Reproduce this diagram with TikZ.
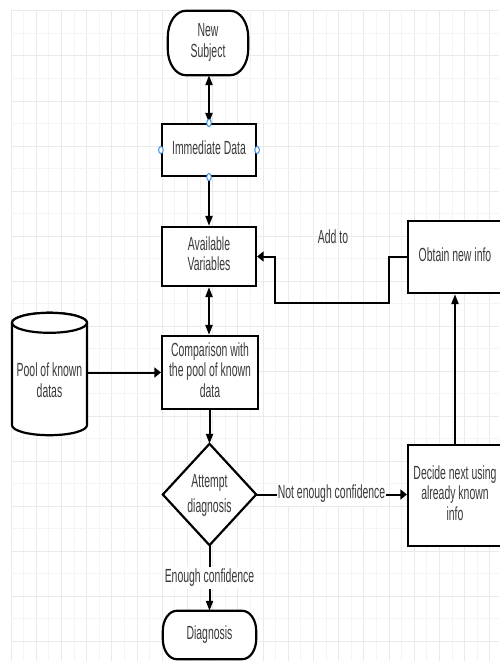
\documentclass[tikz,border=0pt]{standalone}
\usepackage{fontspec}
\setmainfont{Liberation Sans}
\usepackage{graphicx}
\usetikzlibrary{arrows.meta,calc}
\definecolor{gridlight}{HTML}{F4F4F4}
\definecolor{griddark}{HTML}{EAEAEA}
\definecolor{txt}{HTML}{3A3A3A}
\definecolor{handle}{HTML}{3D8FE6}
\newcommand{\sqz}[1]{\scalebox{0.55}[1]{\begin{tabular}{@{}c@{}}#1\end{tabular}}}
\tikzset{
  vt/.tip={Triangle[length=10pt,width=7pt]},
  ht/.tip={Triangle[length=6.5pt,width=10pt]},
  shapeline/.style={draw=black,line width=2.2pt,fill=white},
  boxnode/.style={shapeline,inner sep=0pt,text=txt,font=\fontsize{19}{20.5}\selectfont},
  hidden/.style={inner sep=0pt,text=txt,font=\fontsize{19}{20.5}\selectfont},
  conn/.style={draw=black,line width=2pt},
  lbl/.style={fill=white,inner sep=1pt,text=txt,font=\fontsize{19}{20.5}\selectfont},
  hdl/.style={draw=handle,fill=white,line width=1pt}
}
\begin{document}
\begin{tikzpicture}[x=1pt,y=-1pt]
\useasboundingbox (0,0) rectangle (499,661);
\fill[white] (0,0) rectangle (499,661);
% grid
\foreach \k in {0,...,38}{\ifodd\k\def\gc{gridlight}\else\def\gc{griddark}\fi
  \draw[\gc,line width=1pt] (11+12.6*\k,11) -- (11+12.6*\k,661);}
\foreach \k in {0,...,28}{\ifodd\k\def\gc{gridlight}\else\def\gc{griddark}\fi
  \draw[\gc,line width=1pt] (11,11+22.5*\k) -- (499,11+22.5*\k);}

% nodes
\node[hidden,minimum width=80pt,minimum height=64pt] (ns) at (208,43) {};
\node[boxnode,minimum width=94pt,minimum height=52pt] (imm) at (209,150) {\sqz{Immediate Data}};
\node[boxnode,minimum width=94pt,minimum height=59pt] (av) at (209,256.5) {\sqz{Available\\Variables}};
\node[boxnode,minimum width=96pt,minimum height=73pt] (cmp) at (210,372.5) {\sqz{Comparison with\\the pool of known\\data}};
\node[hidden,minimum width=93pt,minimum height=101pt] (ad) at (209.5,494.5) {};
\node[hidden,minimum width=93pt,minimum height=48pt] (dg) at (209.5,635) {};
\node[hidden,minimum width=75pt,minimum height=122pt] (pool) at (49.5,374) {};
\node[boxnode,minimum width=94pt,minimum height=72pt] (ob) at (455,257) {\sqz{Obtain new info}};
\node[boxnode,minimum width=94pt,minimum height=101pt] (dc) at (455,495.5) {\sqz{Decide next using\\already known\\info}};

% New Subject terminator
\draw[shapeline] ([xshift=18pt]ns.north west) -- ([xshift=-18pt]ns.north east)
  arc[start angle=-90,end angle=0,x radius=18,y radius=26] -- ([yshift=26pt]ns.south east)
  arc[start angle=0,end angle=90,x radius=18,y radius=26] -- ([xshift=18pt]ns.south west)
  arc[start angle=90,end angle=180,x radius=18,y radius=26] -- ([yshift=-26pt]ns.north west)
  arc[start angle=180,end angle=270,x radius=18,y radius=26] -- cycle;
\node[hidden,align=center] (nst) at (ns) {\sqz{New\\Subject}};

% Diagnosis terminator
\draw[shapeline] ([xshift=14pt]dg.north west) -- ([xshift=-14pt]dg.north east)
  arc[start angle=-90,end angle=0,x radius=14,y radius=20] -- ([yshift=20pt]dg.south east)
  arc[start angle=0,end angle=90,x radius=14,y radius=20] -- ([xshift=14pt]dg.south west)
  arc[start angle=90,end angle=180,x radius=14,y radius=20] -- ([yshift=-20pt]dg.north west)
  arc[start angle=180,end angle=270,x radius=14,y radius=20] -- cycle;
\node[hidden] (dgt) at (dg) {\sqz{Diagnosis}};

% Attempt diagnosis diamond
\draw[shapeline] (ad.north) -- (ad.east) -- (ad.south) -- (ad.west) -- cycle;
\node[hidden] (adt) at (ad) {\fontsize{19}{25}\selectfont\sqz{Attempt\\diagnosis}};

% Pool cylinder
\path (pool.north) ++(0,10) coordinate (ct);
\path (pool.south) ++(0,-10) coordinate (cb);
\draw[shapeline] ($(ct)+(-37.5,0)$) -- ($(cb)+(-37.5,0)$)
  arc[start angle=180,end angle=0,x radius=37.5,y radius=10] -- ($(ct)+(37.5,0)$)
  arc[start angle=0,end angle=-180,x radius=37.5,y radius=10] -- cycle;
\draw[shapeline] (ct) ellipse[x radius=37.5,y radius=10];
\node[hidden] (poolt) at (49.5,383) {\sqz{Pool of known\\datas}};

% connectors
\draw[conn,{vt}-{vt}] (imm.north |- ns.south) -- (imm.north);
\draw[conn,-{vt}] (imm.south) -- (av.north);
\draw[conn,{vt}-{vt}] (av.south) -- (av.south |- cmp.north);
\draw[conn,-{ht}] (pool.east |- cmp.west) -- (cmp.west);
\draw[conn,-{vt}] (ad.north |- cmp.south) -- (ad.north);
\draw[conn,-{ht}] (ad.east) -- (ad.east -| dc.west)
  node[lbl,midway] {\sqz{Not enough confidence}};
\draw[conn,-{vt}] (ad.south) -- (dg.north)
  node[lbl,pos=0.5] {\sqz{Enough confidence}};
\draw[conn,-{vt}] (dc.north) -- (ob.south);
\draw[conn,-{ht}] (ob.west) -- ++(-18,0) -- ++(0,46) -| ([xshift=18pt]av.east) -- (av.east);
\node[hidden] (addto) at (333,239) {\sqz{Add to}};

% selection handles
\foreach \a in {north,south,east,west}
  \draw[hdl] (imm.\a) ellipse[x radius=2.3,y radius=3.6];
\end{tikzpicture}
\end{document}
